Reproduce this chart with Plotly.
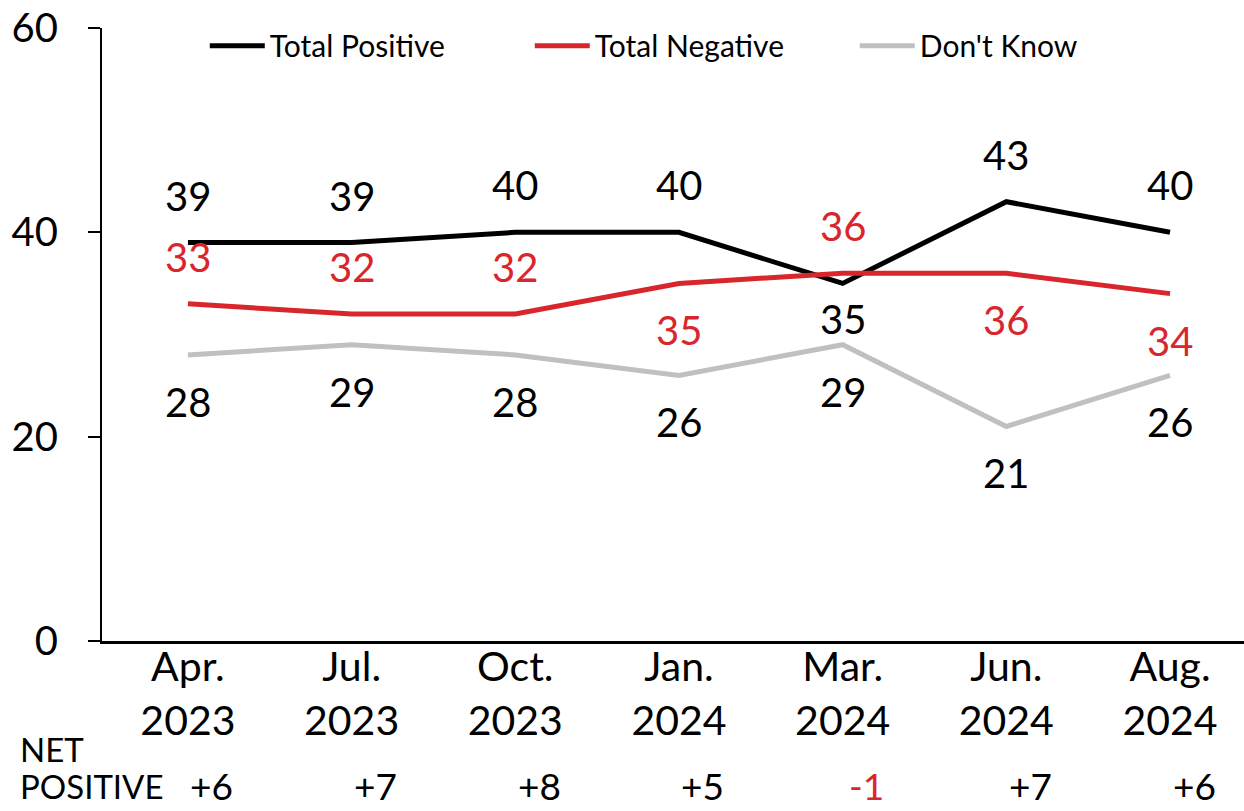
import plotly.graph_objects as go

categories = ["Apr.<br>2023", "Jul.<br>2023", "Oct.<br>2023", "Jan.<br>2024", "Mar.<br>2024", "Jun.<br>2024", "Aug.<br>2024"]
total_positive = [39, 39, 40, 40, 35, 43, 40]
total_negative = [33, 32, 32, 35, 36, 36, 34]
dont_know = [28, 29, 28, 26, 29, 21, 26]
net_positive = ["+6", "+7", "+8", "+5", "-1", "+7", "+6"]
y_ticks = [0, 20, 40, 60]

# label placement: 1 = above, -1 = below
pos_side = [1, 1, 1, 1, -1, 1, 1]
neg_side = [1, 1, 1, -1, 1, -1, -1]
dk_side = [-1, -1, -1, -1, -1, -1, -1]

BLACK = "#000000"
RED = "#d8262c"
GRAY = "#c0c0c0"
FONT = "Lato"

x_idx = list(range(len(categories)))

fig = go.Figure()
series = [
    ("Total Positive", total_positive, BLACK, pos_side),
    ("Total Negative", total_negative, RED, neg_side),
    ("Don't Know", dont_know, GRAY, dk_side),
]
for name, vals, color, _ in series:
    fig.add_trace(go.Scatter(x=x_idx, y=vals, mode="lines", name=name,
                             line=dict(color=color, width=5)))

annotations = []
for name, vals, color, sides in series:
    tcolor = BLACK if color == GRAY else color
    for i, (v, s) in enumerate(zip(vals, sides)):
        shift = 47 * s
        if name == "Total Positive" and s < 0:
            shift = -36
        annotations.append(dict(x=i, y=v, xref="x", yref="y", text=str(v), showarrow=False,
                                yshift=shift,
                                font=dict(family=FONT, size=40, color=tcolor)))

for i, n in enumerate(net_positive):
    annotations.append(dict(x=i, y=-0.2365, xref="x", yref="paper", text=n, showarrow=False,
                            yanchor="middle", xshift=24,
                            font=dict(family=FONT, size=37, color=RED if n.startswith("-") else BLACK)))
annotations.append(dict(x=-0.0736, y=-0.2365, xref="paper", yref="paper", text="POSITIVE", showarrow=False,
                        xanchor="left", yanchor="middle", font=dict(family=FONT, size=33, color=BLACK)))
annotations.append(dict(x=-0.0736, y=-0.176, xref="paper", yref="paper", text="NET", showarrow=False,
                        xanchor="left", yanchor="middle", font=dict(family=FONT, size=33, color=BLACK)))

fig.update_layout(
    width=1244, height=811,
    margin=dict(l=102, r=0, t=28, b=170, autoexpand=False),
    paper_bgcolor="white", plot_bgcolor="white",
    font=dict(family=FONT, color=BLACK),
    showlegend=True,
    legend=dict(orientation="h", x=0.09, y=0.971, xanchor="left", yanchor="middle",
                font=dict(family=FONT, size=30, color=BLACK),
                entrywidth=255, entrywidthmode="pixels", itemwidth=55,
                bgcolor="rgba(0,0,0,0)"),
    annotations=annotations,
)
fig.update_xaxes(range=[-0.525, 6.452], tickmode="array", tickvals=x_idx, ticktext=categories,
                 showline=True, linecolor=BLACK, linewidth=3, ticks="", showgrid=False, zeroline=False,
                 automargin=False, ticklabelstandoff=-12,
                 tickfont=dict(family=FONT, size=41, color=BLACK), fixedrange=True)
fig.update_yaxes(range=[0, 60], tickvals=y_ticks, showline=True, linecolor=BLACK, linewidth=2,
                 ticks="outside", ticklen=12, tickwidth=2, tickcolor=BLACK, showgrid=False, zeroline=False,
                 automargin=False, ticklabelstandoff=22,
                 tickfont=dict(family=FONT, size=40, color=BLACK), fixedrange=True)

fig.write_html("out.html", config={"displayModeBar": False},
               post_script="document.body.style.margin='0';document.body.style.padding='0';")
